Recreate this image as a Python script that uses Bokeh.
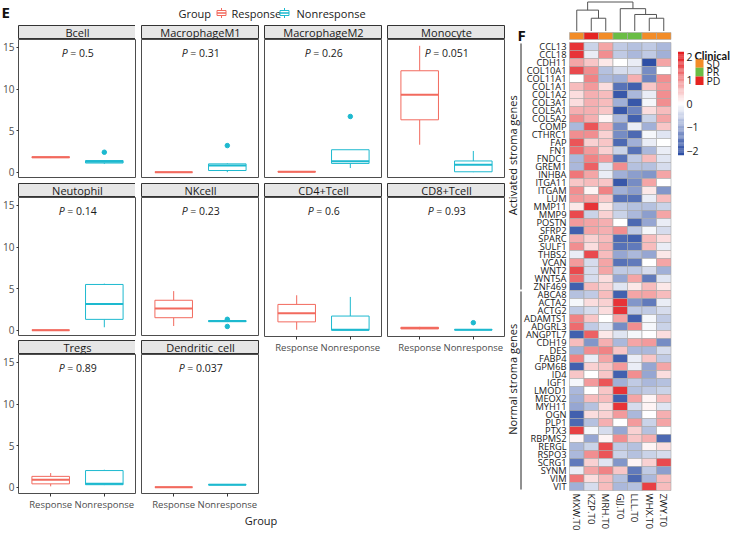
import numpy as np
from bokeh.plotting import figure
from bokeh.models import Range1d, ColumnDataSource, FixedTicker, Spacer, LinearColorMapper
from bokeh.layouts import row, column
from bokeh.core.properties import value
from bokeh.embed import file_html
from bokeh.resources import INLINE

FONT = "Open Sans"

# ---------------- Panel E data ----------------
cell_types = ["Bcell", "MacrophageM1", "MacrophageM2", "Monocyte", "Neutophil",
              "NKcell", "CD4+Tcell", "CD8+Tcell", "Tregs", "Dendritic_cell"]
p_values = ["0.5", "0.31", "0.26", "0.051", "0.14", "0.23", "0.6", "0.93", "0.89", "0.037"]
group_names = ["Response", "Nonresponse"]
group_colors = ["#F26A5E", "#1DB9CF"]

resp_lo  = [1.70, 0.00, 0.00, 3.30, 0.00, 0.50, 0.05, 0.10, 0.10, 0.00]
resp_q1  = [1.75, 0.00, 0.02, 6.30, 0.00, 1.50, 1.00, 0.15, 0.40, 0.00]
resp_med = [1.80, 0.00, 0.05, 9.30, 0.00, 2.60, 2.05, 0.25, 0.90, 0.00]
resp_q3  = [1.85, 0.00, 0.08, 12.20, 0.00, 3.60, 3.10, 0.35, 1.30, 0.00]
resp_hi  = [1.90, 0.00, 0.10, 15.20, 0.00, 4.70, 4.20, 0.40, 1.70, 0.00]
resp_out = [[], [], [], [], [], [], [], [], [], []]

non_lo   = [1.00, 0.00, 0.50, 0.00, 0.35, 1.00, 0.00, 0.00, 0.25, 0.25]
non_q1   = [1.10, 0.20, 1.05, 0.05, 1.30, 1.02, 0.00, 0.02, 0.30, 0.27]
non_med  = [1.25, 0.80, 1.30, 0.90, 3.15, 1.10, 0.05, 0.05, 0.40, 0.30]
non_q3   = [1.40, 1.00, 2.70, 1.35, 5.50, 1.15, 1.70, 0.08, 2.00, 0.33]
non_hi   = [1.45, 1.10, 2.70, 2.55, 5.60, 1.18, 4.00, 0.10, 2.10, 0.35]
non_out  = [[2.4], [3.2], [6.7], [], [], [1.31, 0.45], [], [0.9], [], []]

y_ticks = [0, 5, 10, 15]

# ---------------- Panel F data ----------------
genes = ["CCL13", "CCL18", "CDH11", "COL10A1", "COL11A1", "COL1A1", "COL1A2", "COL3A1",
         "COL5A1", "COL5A2", "COMP", "CTHRC1", "FAP", "FN1", "FNDC1", "GREM1", "INHBA",
         "ITGA11", "ITGAM", "LUM", "MMP11", "MMP9", "POSTN", "SFRP2", "SPARC", "SULF1",
         "THBS2", "VCAN", "WNT2", "WNT5A", "ZNF469",
         "ABCA8", "ACTA2", "ACTG2", "ADAMTS1", "ADGRL3", "ANGPTL7", "CDH19", "DES", "FABP4",
         "GPM6B", "ID4", "IGF1", "LMOD1", "MEOX2", "MYH11", "OGN", "PLP1", "PTX3", "RBPMS2",
         "RERGL", "RSPO3", "SCRG1", "SYNM", "VIM", "VIT"]
gene_groups = ["Activated stroma genes", "Normal stroma genes"]
gene_group_sizes = [31, 25]

samples = ["MXW.T0", "KZP.T0", "MRH.T0", "GJJ.T0", "LLL.T0", "WHX.T0", "ZWY.T0"]
clinical = ["SD", "PD", "SD", "PR", "PR", "SD", "SD"]
clin_levels = ["SD", "PR", "PD"]
clin_colors = ["#F28C28", "#6ABD45", "#E52421"]

mxw = [1.8, 1.8, 0.8, 1.6, 0.0, 0.6, 0.3, 0.3, 0.7, 1.0, -0.8, 1.0, 1.5, 1.3, -0.8, -0.8, 1.2, 0.5, 1.0, 0.9,
       0.2, 1.6, 0.9, -1.8, 0.7, 1.0, -0.2, 0.9, 1.6, 1.3, -1.8,
       -0.7, -0.1, -0.6, 1.1, 1.3, -1.8, 0.6, -0.9, 1.1, -1.8, 0.5, -0.1, -0.8, -0.9, -1.0, -1.8, -1.7, 1.7,
       0.1, -0.8, -0.8, -1.5, -0.2, 1.2, -0.9]
kzp = [-0.5, -0.2, 0.5, 1.0, 1.1, 0.9, 0.7, 0.7, 0.7, 0.7, 1.5, 1.0, 0.4, 0.9, 1.1, 1.4, 0.8, 0.6, 0.1, 0.8,
       1.8, -0.5, 0.8, 0.8, 0.4, 0.3, 1.6, -0.4, -0.4, -0.4, 0.6,
       -0.6, 0.3, -0.4, 0.5, -0.6, 1.4, -1.2, 1.0, -0.2, 0.4, 0.0, 0.9, 0.0, 0.6, -0.7, 0.3, -0.7, -0.1,
       -1.0, -0.5, 1.0, 0.4, 0.8, 0.3, -0.4]
mrh = [0.8, 1.0, 0.2, -0.7, -0.8, 0.3, 0.6, 0.6, 0.5, 0.1, 0.7, 0.4, 0.5, 0.4, 0.9, -0.3, -0.2, 0.5, 1.1, 0.5,
       0.2, 0.4, 0.7, 0.7, 0.6, 0.7, 0.6, 0.8, 0.8, 0.3, 0.4,
       0.6, 0.4, 0.3, 0.0, -0.3, 0.2, 0.7, 1.1, 0.8, 0.5, 0.5, 1.5, 0.5, 0.6, 0.3, 0.4, 0.7, -0.4,
       0.1, 1.6, 1.5, -0.3, 1.1, 0.6, 0.6]
gjj = [-0.6, -0.6, 0.0, -0.4, -0.9, -1.6, -1.9, -0.9, -1.9, -0.8, -1.3, -1.3, -1.7, -0.5, -1.6, 1.0, -0.9, -1.9,
       -0.9, -1.6, -0.6, -0.5, 0.0, 1.0, -1.7, -1.6, -1.0, -1.6, -0.6, -1.0, -0.3,
       -1.8, 1.8, 1.8, 0.8, -1.3, -0.3, -0.8, 0.5, -1.8, 0.9, -1.8, -0.9, 1.8, -1.8, 1.8, 0.9, 0.0, -1.0,
       1.0, -0.6, -0.5, -1.2, 0.5, -0.7, -0.8]
lll = [-0.7, -0.8, -0.2, -0.4, 0.7, -1.8, -0.8, -1.9, -1.4, -1.8, -0.2, -1.7, -0.9, -1.6, -0.6, -0.7, -1.1, -1.3,
       -1.1, -1.6, -0.7, -0.8, -1.7, -0.6, -1.8, -1.5, -0.8, -1.5, -0.6, 0.8, 0.2,
       0.8, -1.2, -0.6, -1.8, 1.0, -0.1, 0.8, -0.8, -0.2, -0.2, 1.0, -0.6, -0.7, 0.8, -0.4, -0.8, 0.9, 0.4,
       0.5, -0.7, -0.7, 0.1, -1.5, -1.7, -0.7]
whx = [-0.6, -0.6, -2.0, -1.3, -1.4, 0.5, -0.2, -0.1, 0.3, -0.5, -0.9, -0.1, -0.2, -0.8, 0.6, -0.7, -1.2, 0.8,
       0.2, -0.2, -0.7, -1.1, -1.0, -0.1, 0.6, 0.6, -1.0, 0.0, -0.4, -1.5, 0.6,
       0.8, -1.5, -0.6, -0.1, -0.1, 0.0, 0.9, -0.8, 0.5, -1.0, -1.0, -0.8, -0.6, 0.1, 0.1, 0.0, -0.5, -0.7,
       0.7, 0.1, -0.5, 0.4, -0.6, -0.8, 1.7]
zwy = [-0.8, -0.9, 0.8, 0.0, 1.0, 0.9, 1.0, 1.0, 0.6, 0.8, 0.5, -0.3, 0.0, -0.2, -0.3, -0.4, 0.8, 0.0, -1.2, 0.6,
       -0.5, 0.8, -0.2, -0.4, 0.3, -0.2, 0.2, 0.8, -0.9, -0.3, 0.2,
       0.6, -0.2, -0.4, -0.6, -0.5, 0.3, -1.3, -0.4, -0.6, 0.8, 0.3, -0.7, -0.5, 0.6, -0.3, 0.7, 0.8, 0.0,
       -1.7, 0.3, -0.4, 1.6, -1.1, 0.6, 0.6]
sample_values = [mxw, kzp, mrh, gjj, lll, whx, zwy]

# dendrogram (leaves 0..6, new nodes 7..12)
merge_left = [1, 0, 5, 4, 3, 8]
merge_right = [2, 7, 6, 9, 10, 11]
merge_height = [0.44, 0.72, 0.44, 0.57, 0.77, 1.0]

colorbar_ticks = [2, 1, 0, -1, -2]
colorbar_labels = ["2", "1", "0", "\u22121", "\u22122"]

# ---------------- Layout constants ----------------
PW, PH = 118, 139
SH = 14
LB = 17
Y0, Y1 = -0.76, 15.96
BOXW = 0.7
LW = LB + 4 * PW + 3 * 5
NBSP = "\u00a0"


def base_fig(**kw):
    f = figure(output_backend="svg", toolbar_location=None, **kw)
    f.grid.visible = False
    return f


def make_strip(k, with_left):
    s = base_fig(frame_width=PW, frame_height=SH, x_range=Range1d(0, 1), y_range=Range1d(0, 1),
                 x_axis_location=None, y_axis_location=None,
                 min_border_left=LB if with_left else 0, min_border_right=0,
                 min_border_top=0, min_border_bottom=0)
    s.background_fill_color = "#E6E6E6"
    s.outline_line_color = "#333333"
    s.outline_line_width = 1
    s.text(x=[0.5], y=[0.5], text=[cell_types[k]], text_align="center", text_baseline="middle",
           text_font=value(FONT), text_font_size="11px", text_color="#1A1A1A")
    return s


def est_width(s, size):
    w = {NBSP: 0.26, " ": 0.26, "=": 0.57, ".": 0.27}
    return sum(w.get(c, 0.57) for c in s) * size


def make_panel(k, show_y, show_x):
    p = base_fig(frame_width=PW, frame_height=PH, x_range=Range1d(0.4, 2.6), y_range=Range1d(Y0, Y1),
                 x_axis_location="below" if show_x else None,
                 y_axis_location="left" if show_y else None,
                 min_border_left=LB if show_y else 0, min_border_right=0, min_border_top=0,
                 min_border_bottom=18 if show_x else 0)
    p.outline_line_color = "#4D4D4D"
    p.outline_line_width = 1
    stats = [(resp_lo[k], resp_q1[k], resp_med[k], resp_q3[k], resp_hi[k], resp_out[k]),
             (non_lo[k], non_q1[k], non_med[k], non_q3[k], non_hi[k], non_out[k])]
    for g, (lo, q1, md, q3, hi, outs) in enumerate(stats):
        xg = g + 1
        col = group_colors[g]
        p.segment(x0=[xg, xg], y0=[lo, q3], x1=[xg, xg], y1=[q1, hi], line_color=col, line_width=1)
        p.vbar(x=[xg], width=BOXW, bottom=[q1], top=[q3], fill_color="white", line_color=col, line_width=1)
        p.segment(x0=[xg - BOXW / 2], y0=[md], x1=[xg + BOXW / 2], y1=[md], line_color=col, line_width=2)
        if outs:
            p.scatter(x=[xg] * len(outs), y=outs, size=4.5, fill_color=col, line_color=col)
    rest = NBSP + "=" + NBSP + p_values[k]
    fs = 10.5
    wp = 6.5
    tot = wp + est_width(rest, fs)
    off = -tot / 2 + wp
    p.text(x=[1.5], y=[14.3], text=["P"], text_align="right", text_baseline="middle", x_offset=off,
           text_font=value(FONT), text_font_size="%.1fpx" % fs, text_font_style="italic", text_color="#1A1A1A")
    p.text(x=[1.5], y=[14.3], text=[rest], text_align="left", text_baseline="middle", x_offset=off,
           text_font=value(FONT), text_font_size="%.1fpx" % fs, text_color="#1A1A1A")
    if show_y:
        ax = p.yaxis[0]
        ax.ticker = FixedTicker(ticks=y_ticks)
        ax.major_label_text_font = FONT
        ax.major_label_text_font_size = "10px"
        ax.major_label_text_color = "#4D4D4D"
        ax.major_tick_out = 2
        ax.major_tick_in = 0
        ax.minor_tick_line_color = None
        ax.axis_line_color = None
        ax.major_label_standoff = 2
        ax.major_tick_line_color = "#333333"
    if show_x:
        ax = p.xaxis[0]
        ax.ticker = FixedTicker(ticks=[1, 2])
        ax.major_label_overrides = {1: group_names[0], 2: group_names[1]}
        ax.major_label_text_font = FONT
        ax.major_label_text_font_size = "9.5px"
        ax.major_label_text_color = "#4D4D4D"
        ax.major_tick_out = 3
        ax.major_tick_in = 0
        ax.minor_tick_line_color = None
        ax.axis_line_color = None
        ax.major_label_standoff = 1
        ax.major_tick_line_color = "#333333"
    return p


layout_cols = [[0, 4, 8], [1, 5, 9], [2, 6], [3, 7]]
gaps = [5, 4]
cols = []
for ci, ks in enumerate(layout_cols):
    items = []
    for ri, k in enumerate(ks):
        if ri > 0:
            items.append(Spacer(width=1, height=gaps[ri - 1]))
        items.append(make_strip(k, ci == 0))
        items.append(make_panel(k, ci == 0, ri == len(ks) - 1))
    cols.append(column(items, spacing=0))
grid = row(cols, spacing=5)

# header with panel letter and legend
hd = base_fig(width=LW, height=25, x_range=Range1d(0, LW), y_range=Range1d(25, 0),
              x_axis_location=None, y_axis_location=None, min_border=0)
hd.outline_line_color = None
hd.text(x=[1], y=[11], text=["E"], text_align="left", text_baseline="middle",
        text_font=value(FONT), text_font_size="15px", text_font_style="bold", text_color="#111111")
hd.text(x=[178], y=[12.5], text=["Group"], text_align="left", text_baseline="middle",
        text_font=value(FONT), text_font_size="11px", text_color="#1A1A1A")
icon_x = [221, 284]
label_x = [231, 296]
for g in range(2):
    col = group_colors[g]
    hd.segment(x0=[icon_x[g]], y0=[7.5], x1=[icon_x[g]], y1=[17.5], line_color=col, line_width=1)
    hd.quad(left=[icon_x[g] - 4.5], right=[icon_x[g] + 4.5], top=[10], bottom=[15],
            fill_color="white", line_color=col, line_width=1)
    hd.segment(x0=[icon_x[g] - 4.5], y0=[12.5], x1=[icon_x[g] + 4.5], y1=[12.5], line_color=col, line_width=1.5)
    hd.text(x=[label_x[g]], y=[12.5], text=[group_names[g]], text_align="left", text_baseline="middle",
            text_font=value(FONT), text_font_size="11px", text_color="#1A1A1A")

ft = base_fig(width=LW, height=16, x_range=Range1d(0, LW), y_range=Range1d(16, 0),
              x_axis_location=None, y_axis_location=None, min_border=0)
ft.outline_line_color = None
ft.text(x=[LB + (LW - LB) / 2], y=[7], text=["Group"], text_align="center", text_baseline="middle",
        text_font=value(FONT), text_font_size="11px", text_color="#1A1A1A")

left = column([hd, grid, ft], spacing=0)

# ---------------- Heatmap figure ----------------
RW, RH = 730 - LW, 530
cw, rh = 14.5, 8.0
hm_left, hm_top = 64, 42
xs = -hm_left / cw
xe = xs + RW / cw
yt = -hm_top / rh
yb = yt + RH / rh


def cx(px):
    return xs + px / cw


def cy(px):
    return yt + px / rh


hp = base_fig(width=RW, height=RH, x_range=Range1d(xs, xe), y_range=Range1d(yb, yt),
              x_axis_location=None, y_axis_location=None, min_border=0)
hp.outline_line_color = None


def hex_to_rgb(h):
    return np.array([int(h[i:i + 2], 16) for i in (1, 3, 5)], dtype=float)


def ramp(c1, c2, n):
    a, b = hex_to_rgb(c1), hex_to_rgb(c2)
    out = []
    for t in np.linspace(0, 1, n):
        c = a + (b - a) * t
        out.append("#%02x%02x%02x" % tuple(int(round(v)) for v in c))
    return out


palette = ramp("#2E4FA5", "#FFFFFF", 128) + ramp("#FFFFFF", "#E41E22", 128)[1:]
cb_lo, cb_hi = -2.2, 2.2
mapper = LinearColorMapper(palette=palette, low=-2.0, high=2.0)

hx, hy, hv = [], [], []
for j, vals in enumerate(sample_values):
    for i, v in enumerate(vals):
        hx.append(j + 0.5)
        hy.append(i + 0.5)
        hv.append(v)
hsrc = ColumnDataSource(dict(x=hx, y=hy, v=hv))
hp.rect(x="x", y="y", width=1, height=1, source=hsrc, fill_color={"field": "v", "transform": mapper},
        line_color="#A8A8A8", line_width=0.6)

# column annotation
ann_c = [clin_colors[clin_levels.index(c)] for c in clinical]
hp.rect(x=[j + 0.5 for j in range(len(samples))], y=[cy(35.5)] * len(samples), width=1, height=7 / rh,
        fill_color=ann_c, line_color="#A8A8A8", line_width=0.6)

# dendrogram
base_px, root_px = 30.5, 1.5
pos = {j: (j + 0.5, cy(base_px)) for j in range(len(samples))}
dx, dy = [], []
for k, (l, r, h) in enumerate(zip(merge_left, merge_right, merge_height)):
    hyv = cy(base_px - h * (base_px - root_px))
    (xl, yl), (xr, yr) = pos[l], pos[r]
    dx.append([xl, xl, xr, xr])
    dy.append([yl, hyv, hyv, yr])
    pos[len(samples) + k] = ((xl + xr) / 2, hyv)
hp.multi_line(xs=dx, ys=dy, line_color="#555555", line_width=1)

# gene labels
hp.text(x=[cx(hm_left - 3)] * len(genes), y=[i + 0.5 for i in range(len(genes))], text=genes,
        text_align="right", text_baseline="middle", text_font=value(FONT), text_font_size="9.3px",
        text_color="#1A1A1A")

# sample labels
hp.text(x=[j + 0.5 for j in range(len(samples))], y=[len(genes) + 3 / rh] * len(samples), text=samples,
        angle=-np.pi / 2, text_align="left", text_baseline="middle", text_font=value(FONT),
        text_font_size="9.8px", text_color="#1A1A1A")

# gene group brackets and titles
start = 0
for name, n in zip(gene_groups, gene_group_sizes):
    hp.segment(x0=[cx(15.5)], y0=[start + 0.12], x1=[cx(15.5)], y1=[start + n - 0.12], line_color="#222222",
               line_width=1)
    hp.text(x=[cx(7)], y=[start + n / 2 - 1.4], text=[name], angle=np.pi / 2, text_align="center",
            text_baseline="middle", text_font=value(FONT), text_font_size="11px", text_color="#1A1A1A")
    start += n

# panel letter
hp.text(x=[cx(12)], y=[cy(34)], text=["F"], text_align="left", text_baseline="middle",
        text_font=value(FONT), text_font_size="15px", text_font_style="bold", text_color="#111111")

# colour bar
cb_center, cb_ppu = 103.0, 23.5
edges = np.linspace(cb_lo, cb_hi, 89)
cb_src = ColumnDataSource(dict(
    left=[cx(172.5)] * 88, right=[cx(178.5)] * 88,
    top=[cy(cb_center - e * cb_ppu) for e in edges[1:]],
    bottom=[cy(cb_center - e * cb_ppu) for e in edges[:-1]],
    mid=list((edges[1:] + edges[:-1]) / 2)))
hp.quad(left="left", right="right", top="top", bottom="bottom", source=cb_src,
        fill_color={"field": "mid", "transform": mapper}, line_color=None)
hp.text(x=[cx(181)] * len(colorbar_ticks), y=[cy(cb_center - t * cb_ppu) for t in colorbar_ticks],
        text=colorbar_labels, text_align="left", text_baseline="middle", text_font=value(FONT),
        text_font_size="10.5px", text_color="#1A1A1A")

# clinical legend
hp.text(x=[cx(189)], y=[cy(54.5)], text=["Clinical"], text_align="left", text_baseline="middle",
        text_font=value("Lato"), text_font_size="11px", text_font_style="bold", text_color="#111111")
leg_y = [cy(63 + 8.6 * i) for i in range(len(clin_levels))]
hp.rect(x=[cx(194)] * 3, y=leg_y, width=8 / cw, height=8.6 / rh, fill_color=clin_colors, line_color=None)
hp.text(x=[cx(201)] * 3, y=leg_y, text=clin_levels, text_align="left", text_baseline="middle",
        text_font=value(FONT), text_font_size="10.5px", text_color="#1A1A1A")

page = row([left, hp], spacing=0)

open("out.html", "w").write(file_html(page, INLINE))
